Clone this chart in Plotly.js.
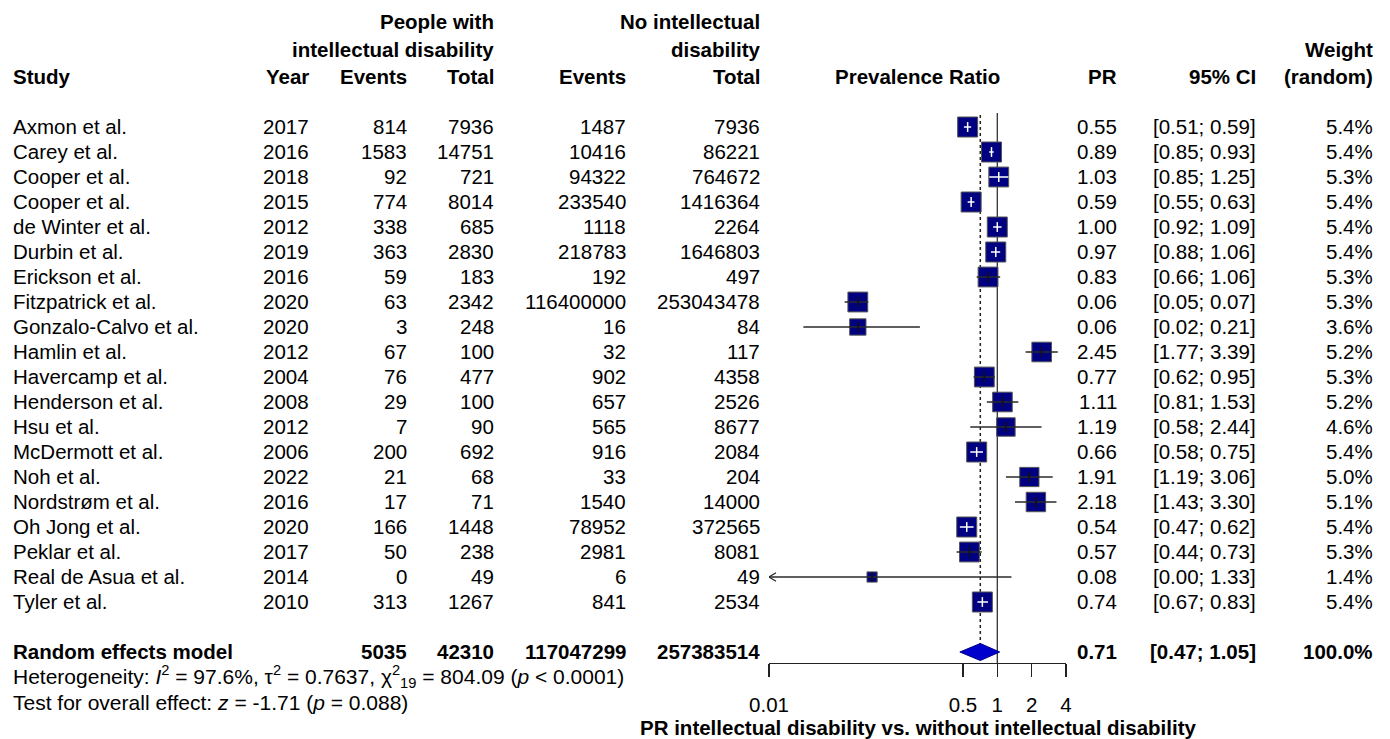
<!DOCTYPE html>
<html><head><meta charset="utf-8">
<script src="https://cdn.plot.ly/plotly-3.0.1.min.js"></script>
<style>html,body{margin:0;padding:0;background:#fff}#chart{width:1390px;height:739px}</style>
</head><body><div id="chart"></div>
<script>
// ---------------- data ----------------
const studies = ["Axmon et al.","Carey et al.","Cooper et al.","Cooper et al.","de Winter et al.","Durbin et al.","Erickson et al.","Fitzpatrick et al.","Gonzalo-Calvo et al.","Hamlin et al.","Havercamp et al.","Henderson et al.","Hsu et al.","McDermott et al.","Noh et al.","Nordstrøm et al.","Oh Jong et al.","Peklar et al.","Real de Asua et al.","Tyler et al."];
const years = [2017,2016,2018,2015,2012,2019,2016,2020,2020,2012,2004,2008,2012,2006,2022,2016,2020,2017,2014,2010];
const eventsID = [814,1583,92,774,338,363,59,63,3,67,76,29,7,200,21,17,166,50,0,313];
const totalID = [7936,14751,721,8014,685,2830,183,2342,248,100,477,100,90,692,68,71,1448,238,49,1267];
const eventsNoID = [1487,10416,94322,233540,1118,218783,192,116400000,16,32,902,657,565,916,33,1540,78952,2981,6,841];
const totalNoID = [7936,86221,764672,1416364,2264,1646803,497,253043478,84,117,4358,2526,8677,2084,204,14000,372565,8081,49,2534];
const pr = [0.55,0.89,1.03,0.59,1.00,0.97,0.83,0.06,0.06,2.45,0.77,1.11,1.19,0.66,1.91,2.18,0.54,0.57,0.08,0.74];
const ciLower = [0.51,0.85,0.85,0.55,0.92,0.88,0.66,0.046,0.02,1.77,0.62,0.81,0.58,0.58,1.19,1.43,0.47,0.44,0.00,0.67];
const ciUpper = [0.59,0.93,1.25,0.63,1.09,1.06,1.06,0.074,0.21,3.39,0.95,1.53,2.44,0.75,3.06,3.30,0.62,0.73,1.33,0.83];
const weights = [5.4,5.4,5.3,5.4,5.4,5.4,5.3,5.3,3.6,5.2,5.3,5.2,4.6,5.4,5.0,5.1,5.4,5.3,1.4,5.4];

const reLabel = "Random effects model";
const reEventsID = 5035, reTotalID = 42310, reEventsNoID = 117047299, reTotalNoID = 257383514;
const rePR = 0.71, reLower = 0.47, reUpper = 1.05, reWeight = 100.0;
const heterogeneityText = "Heterogeneity: <i>I</i><sup>2</sup> = 97.6%, τ<sup>2</sup> = 0.7637, χ<sup>2</sup><sub>19</sub> = 804.09 (<i>p</i> &lt; 0.0001)";
const overallText = "Test for overall effect: <i>z</i> = -1.71 (<i>p</i> = 0.088)";
const tickVals = [0.01, 0.5, 1, 2, 4];
const tickText = ["0.01","0.5","1","2","4"];
const axisTitle = "PR intellectual disability vs. without intellectual disability";

// ---------------- geometry ----------------
const W = 1390, H = 739;
const row0Px = 127, rowStep = 25;
const yRange = [(H - row0Px) / rowStep, (0 - row0Px) / rowStep];
const plotL = 769, plotR = 1066;
const xRange = [Math.log10(tickVals[0]), Math.log10(tickVals[tickVals.length - 1])];
const pxPerDecade = (plotR - plotL) / (xRange[1] - xRange[0]);
const axisPx = 663;
const pxToRow = p => (p - row0Px) / rowStep;
const n = studies.length;
const reRow = n + 1;
const xMin = tickVals[0];

const FONT = "Arial, 'Liberation Sans', sans-serif";
const FS = 20.5;

// box sizes (area proportional to weight)
const maxW = Math.max(...weights);
const boxSize = weights.map(w => 20 * Math.sqrt(w / maxW));
const inside = pr.map((p, i) => {
  if (ciLower[i] <= 0) return false;
  const half = boxSize[i] / 2;
  return (Math.log10(p) - Math.log10(ciLower[i])) * pxPerDecade <= half &&
         (Math.log10(ciUpper[i]) - Math.log10(p)) * pxPerDecade <= half;
});

const traces = [];
// reference line at 1
traces.push({x: [1, 1], y: [pxToRow(113), pxToRow(axisPx)], mode: "lines",
  line: {color: "#222", width: 1.2}, hoverinfo: "skip", showlegend: false});
// dotted RE line
traces.push({x: [rePR, rePR], y: [pxToRow(115), reRow], mode: "lines",
  line: {color: "#222", width: 1.5, dash: "dot"}, hoverinfo: "skip", showlegend: false});

// boxes
traces.push({x: pr, y: pr.map((_, i) => i), mode: "markers", type: "scatter", opacity: 1,
  marker: {symbol: "square", size: boxSize, opacity: 1, color: "#000080", line: {color: "#555", width: 1}},
  hoverinfo: "skip", showlegend: false});

// CI lines: black for outside, white for inside
function ciLines(sel) {
  const xs = [], ys = [];
  pr.forEach((p, i) => {
    if (!sel(i)) return;
    xs.push(Math.max(ciLower[i], xMin), ciUpper[i], null);
    ys.push(i, i, null);
  });
  return {xs, ys};
}
const outL = ciLines(i => !inside[i]);
traces.push({x: outL.xs, y: outL.ys, mode: "lines", line: {color: "#2a2a2a", width: 1.5},
  hoverinfo: "skip", showlegend: false});
const inL = ciLines(i => inside[i]);
traces.push({x: inL.xs, y: inL.ys, mode: "lines", line: {color: "#ffffff", width: 1.5},
  hoverinfo: "skip", showlegend: false});

// arrows for truncated CIs
const arrX = [], arrY = [];
const k = Math.pow(10, 7 / pxPerDecade);
ciLower.forEach((lo, i) => {
  if (lo < xMin) {
    arrX.push(xMin * k, xMin, xMin * k, null);
    arrY.push(i - 0.17, i, i + 0.17, null);
  }
});
traces.push({x: arrX, y: arrY, mode: "lines", line: {color: "#2a2a2a", width: 1.3},
  hoverinfo: "skip", showlegend: false});

// center ticks
traces.push({x: pr, y: pr.map((_, i) => i), mode: "markers",
  marker: {symbol: "line-ns", size: 7, opacity: 1, color: "rgba(0,0,0,0)",
    line: {color: inside.map(v => v ? "#ffffff" : "#111111"), width: 1.5}},
  hoverinfo: "skip", showlegend: false});

// diamond
const dh = 8.5 / rowStep;
traces.push({x: [reLower, rePR, reUpper, rePR, reLower], y: [reRow, reRow - dh, reRow, reRow + dh, reRow],
  mode: "lines", fill: "toself", fillcolor: "#0000CD", line: {color: "#00008B", width: 1},
  hoverinfo: "skip", showlegend: false});

// ---------------- text ----------------
const annotations = [];
function ann(text, px, row, anchor, bold, size) {
  annotations.push({text: bold ? "<b>" + text + "</b>" : text, xref: "paper", yref: "y",
    x: px / W, y: row, xanchor: anchor, yanchor: "middle", showarrow: false, yshift: 1,
    font: {family: FONT, size: size || FS, color: "#000"}, borderpad: 0});
}
const col = {study: 12, year: 310, ev1: 408, tot1: 495, ev2: 627, tot2: 761, pr: 1118, ci: 1257, wt: 1374, mid: (plotL + plotR) / 2};

// headers
ann("People with", col.tot1, pxToRow(22), "right", true);
ann("intellectual disability", col.tot1, pxToRow(50), "right", true);
ann("No intellectual", col.tot2, pxToRow(22), "right", true);
ann("disability", col.tot2, pxToRow(50), "right", true);
ann("Weight", col.wt, pxToRow(50), "right", true);
const hRow = pxToRow(77);
ann("Study", col.study, hRow, "left", true);
ann("Year", col.year, hRow, "right", true);
ann("Events", col.ev1, hRow, "right", true);
ann("Total", col.tot1, hRow, "right", true);
ann("Events", col.ev2, hRow, "right", true);
ann("Total", col.tot2, hRow, "right", true);
ann("Prevalence Ratio", col.mid, hRow, "center", true);
ann("PR", col.pr, hRow, "right", true);
ann("95% CI", col.ci, hRow, "right", true);
ann("(random)", col.wt, hRow, "right", true);

// study rows
studies.forEach((s, i) => {
  ann(s, col.study, i, "left");
  ann(String(years[i]), col.year, i, "right");
  ann(String(eventsID[i]), col.ev1, i, "right");
  ann(String(totalID[i]), col.tot1, i, "right");
  ann(String(eventsNoID[i]), col.ev2, i, "right");
  ann(String(totalNoID[i]), col.tot2, i, "right");
  ann(pr[i].toFixed(2), col.pr, i, "right");
  ann("[" + ciLower[i].toFixed(2) + "; " + ciUpper[i].toFixed(2) + "]", col.ci, i, "right");
  ann(weights[i].toFixed(1) + "%", col.wt, i, "right");
});

// random effects row
ann(reLabel, col.study, reRow, "left", true);
ann(String(reEventsID), col.ev1, reRow, "right", true);
ann(String(reTotalID), col.tot1, reRow, "right", true);
ann(String(reEventsNoID), col.ev2, reRow, "right", true);
ann(String(reTotalNoID), col.tot2, reRow, "right", true);
ann(rePR.toFixed(2), col.pr, reRow, "right", true);
ann("[" + reLower.toFixed(2) + "; " + reUpper.toFixed(2) + "]", col.ci, reRow, "right", true);
ann(reWeight.toFixed(1) + "%", col.wt, reRow, "right", true);

ann(heterogeneityText, col.study, pxToRow(677), "left", false, 21);
ann(overallText, col.study, pxToRow(703), "left", false, 21);
ann(axisTitle, col.mid, pxToRow(728), "center", true);

const layout = {
  width: W, height: H,
  margin: {l: 0, r: 0, t: 0, b: 0, pad: 0},
  paper_bgcolor: "#fff", plot_bgcolor: "rgba(0,0,0,0)",
  showlegend: false,
  xaxis: {type: "log", domain: [plotL / W, plotR / W], range: xRange,
    anchor: "free", position: 1 - axisPx / H,
    showline: true, linecolor: "#222", linewidth: 1.2,
    ticks: "outside", ticklen: 13, tickwidth: 1.2, tickcolor: "#222",
    tickmode: "array", tickvals: tickVals, ticktext: tickText,
    tickfont: {family: FONT, size: FS, color: "#000"}, ticklabelstandoff: 10,
    showgrid: false, zeroline: false, fixedrange: true},
  yaxis: {range: yRange, domain: [0, 1], visible: false, showgrid: false, zeroline: false, fixedrange: true},
  annotations: annotations
};
Plotly.newPlot("chart", traces, layout, {staticPlot: true, displayModeBar: false});
</script>
</body></html>
